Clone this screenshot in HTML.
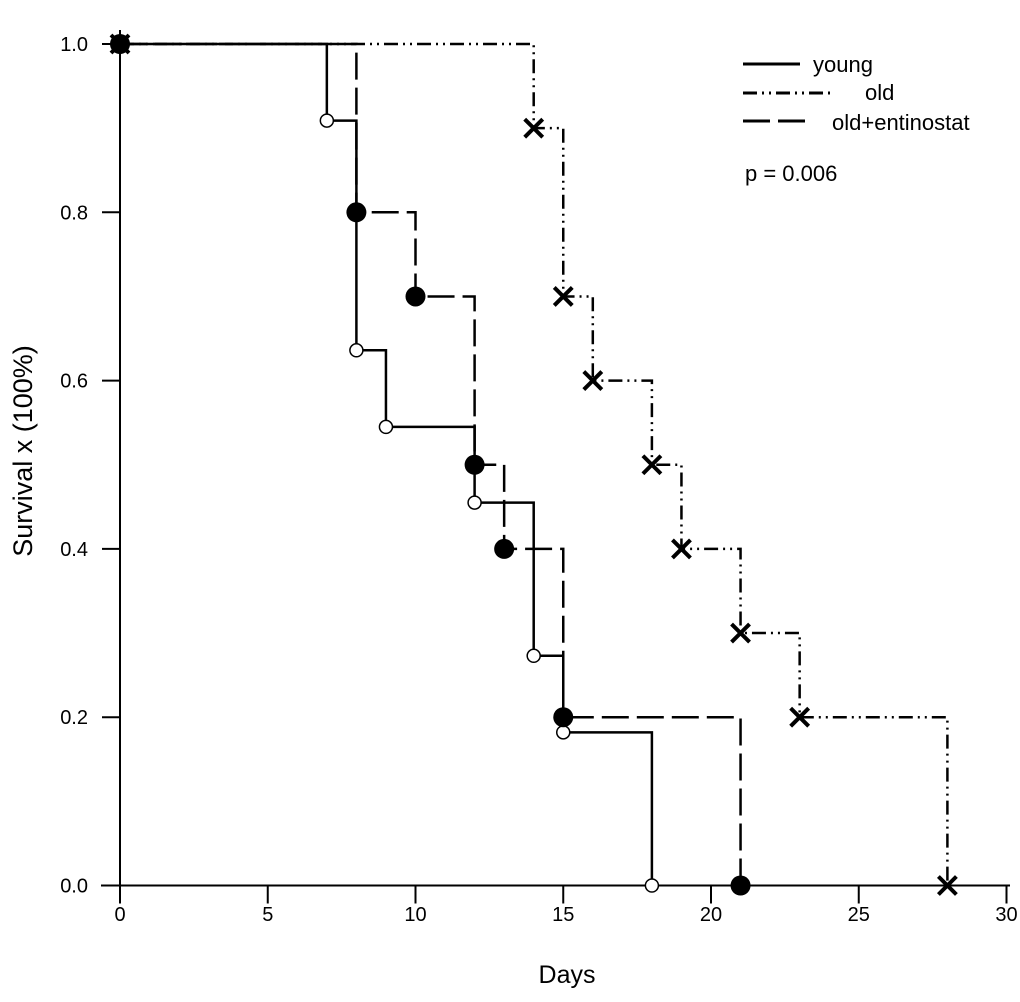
<!DOCTYPE html>
<html><head><meta charset="utf-8"><style>
html,body{margin:0;padding:0;background:#fff}
svg{display:block;font-family:"Liberation Sans",Arial,sans-serif}
</style></head><body>
<svg id="chart" width="1020" height="1002" viewBox="0 0 1020 1002" xmlns="http://www.w3.org/2000/svg">
<g id="axes"></g>
<g id="series"></g>
<g id="legend">
  <line x1="743" y1="64" x2="800" y2="64" stroke="#000" stroke-width="3"/>
  <text x="813" y="72" font-size="22">young</text>
  <line x1="743" y1="93" x2="835" y2="93" stroke="#000" stroke-width="3" stroke-dasharray="14,5,2,5,2,5"/>
  <text x="865" y="100" font-size="22">old</text>
  <line x1="743" y1="121" x2="806" y2="121" stroke="#000" stroke-width="3" stroke-dasharray="27,8"/>
  <text x="832" y="130" font-size="22">old+entinostat</text>
  <text x="745" y="181" font-size="22">p = 0.006</text>
</g>
<text x="567" y="983" font-size="25" text-anchor="middle">Days</text>
<text transform="translate(32,451) rotate(-90)" font-size="27" text-anchor="middle">Survival x (100%)</text>
</svg>
<script>
const xTicks=[0,5,10,15,20,25,30];
const yTicks=[0,0.2,0.4,0.6,0.8,1.0];
const yTickLabels=["0.0","0.2","0.4","0.6","0.8","1.0"];
const youngDays=[0,7,8,9,12,14,15,18];
const youngSurv=[1.0,0.909,0.636,0.545,0.455,0.273,0.182,0];
const oldDays=[0,14,15,16,18,19,21,23,28];
const oldSurv=[1.0,0.9,0.7,0.6,0.5,0.4,0.3,0.2,0];
const entDays=[0,8,10,12,13,15,21];
const entSurv=[1.0,0.8,0.7,0.5,0.4,0.2,0];

const NS="http://www.w3.org/2000/svg";
const X=d=>120+d*29.55;
const Y=v=>885.5-v*841.5;
function mk(tag,attrs,parent){const e=document.createElementNS(NS,tag);for(const k in attrs)e.setAttribute(k,attrs[k]);parent.appendChild(e);return e;}
const axes=document.getElementById('axes'),series=document.getElementById('series');
let e=mk('line',{x1:101,y1:Y(0),x2:1010,y2:Y(0),stroke:'#000','stroke-width':2},axes);


e=mk('line',{x1:X(0),y1:Y(0)+18,x2:X(0),y2:30,stroke:'#000','stroke-width':2},axes);


xTicks.forEach(t=>{
  let l=mk('line',{x1:X(t),y1:Y(0),x2:X(t),y2:Y(0)+18,stroke:'#000','stroke-width':2},axes);
  
  
  let tx=mk('text',{x:X(t),y:921,'font-size':20,'text-anchor':'middle'},axes);
  tx.textContent=t;
  
  
});
yTicks.forEach((t,i)=>{
  let l=mk('line',{x1:X(0)-18,y1:Y(t),x2:X(0),y2:Y(t),stroke:'#000','stroke-width':2},axes);
  
  
  let tx=mk('text',{x:88,y:Y(t)+7,'font-size':20,'text-anchor':'end'},axes);
  tx.textContent=yTickLabels[i];
  
  
});
function stepPath(days,surv){let d='M'+X(days[0])+','+Y(surv[0]);for(let i=1;i<days.length;i++){d+=' H'+X(days[i])+' V'+Y(surv[i]);}return d;}
function drawSeries(name,days,surv,dash,marker){
  const g=mk('g',{},series);
  
  
  const p=mk('path',{d:stepPath(days,surv),fill:'none',stroke:'#000','stroke-width':2.5,'stroke-dasharray':dash},g);
  
  
  days.forEach((d,i)=>{
    const cx=X(d),cy=Y(surv[i]);let m;
    if(marker==='open'){m=mk('circle',{cx:cx,cy:cy,r:6.5,fill:'#fff',stroke:'#000','stroke-width':1.5},g);}
    else if(marker==='filled'){m=mk('circle',{cx:cx,cy:cy,r:10,fill:'#000'},g);}
    else{m=mk('path',{d:`M${cx-9},${cy-9}L${cx+9},${cy+9}M${cx-9},${cy+9}L${cx+9},${cy-9}`,stroke:'#000','stroke-width':4},g);}
    
    
  });
}
drawSeries('young',youngDays,youngSurv,'none','open');
drawSeries('old',oldDays,oldSurv,'14,5,2,5,2,5','x');
drawSeries('old-entinostat',entDays,entSurv,'27,8','filled');
</script>
</body></html>
